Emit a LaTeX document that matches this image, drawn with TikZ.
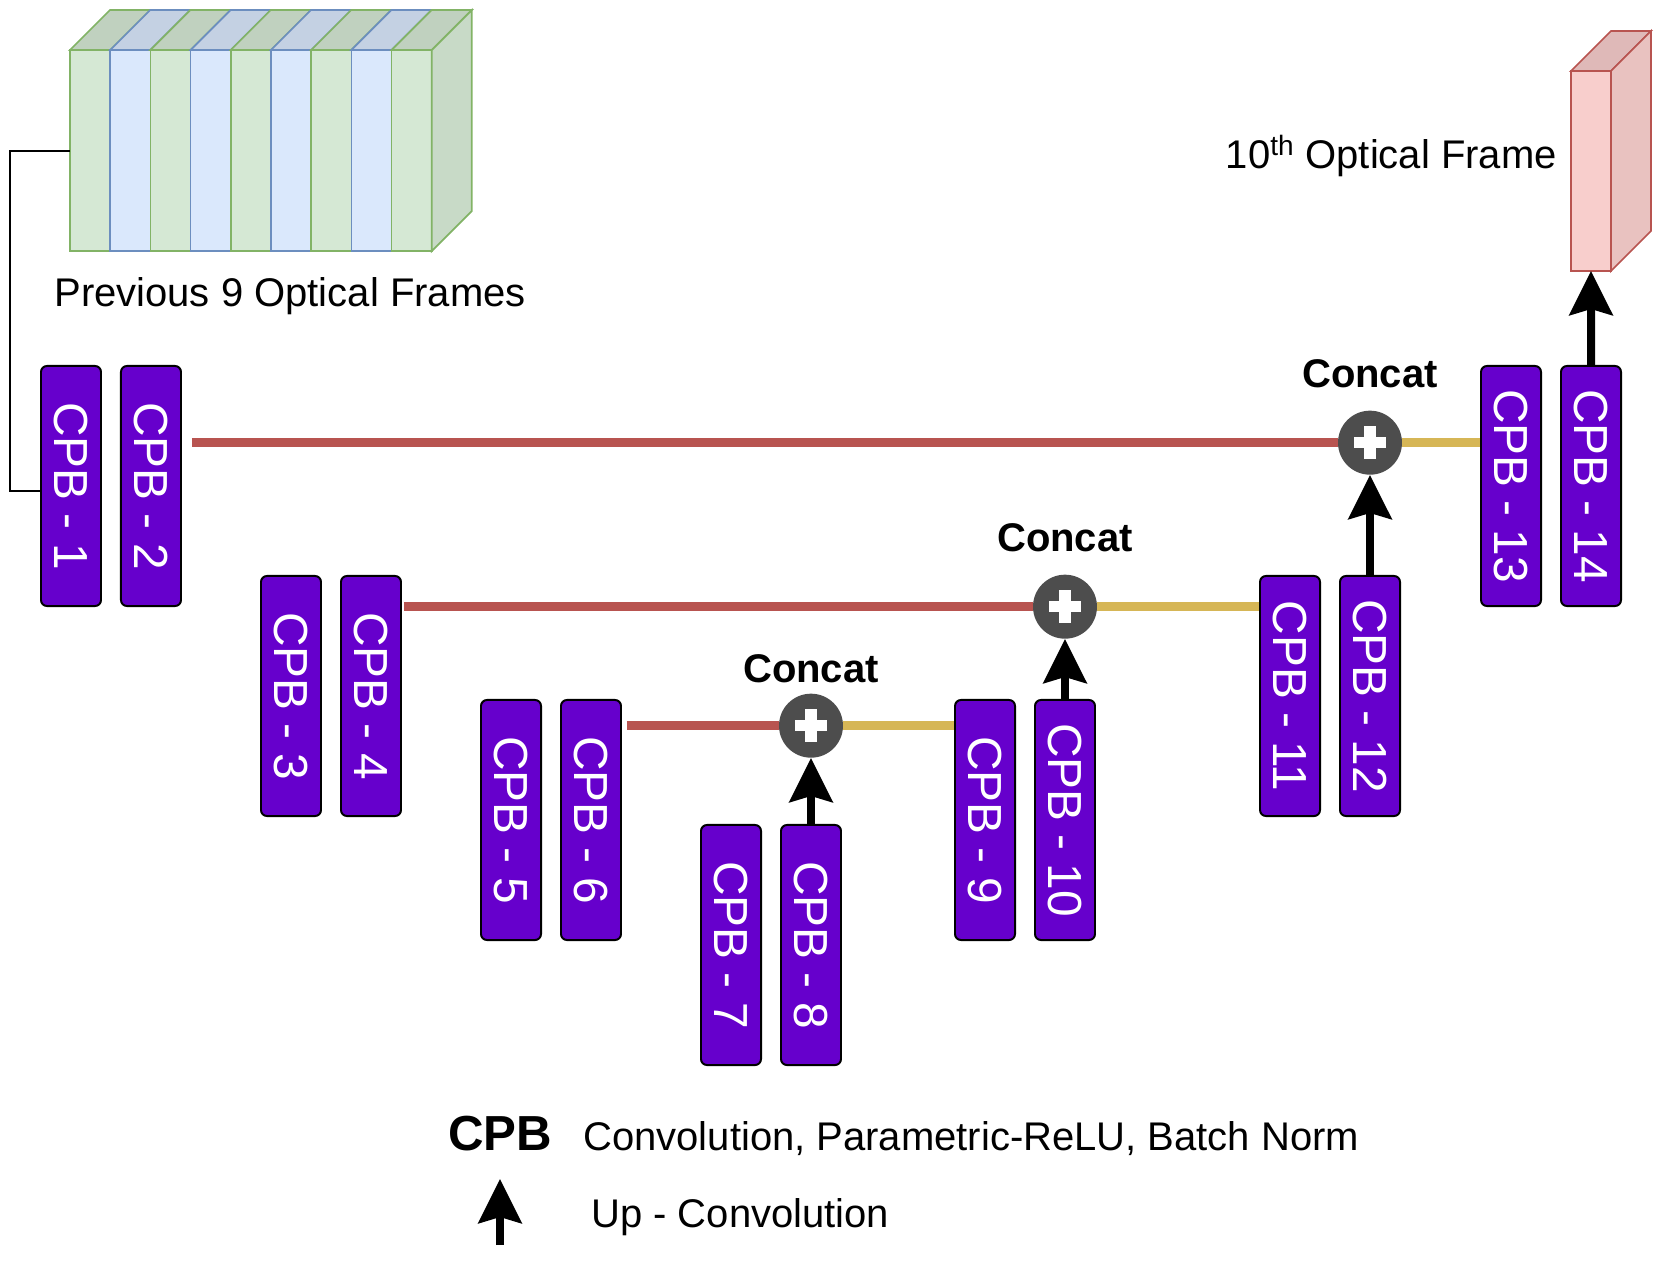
\documentclass[tikz,border=0pt]{standalone}
\usepackage{fontspec}
\setmainfont{Liberation Sans}
\usetikzlibrary{positioning,arrows.meta}

\definecolor{cpbpurple}{HTML}{6600CC}
\definecolor{grnF}{HTML}{D5E8D4}
\definecolor{grnS}{HTML}{82B366}
\definecolor{bluF}{HTML}{DAE8FC}
\definecolor{bluS}{HTML}{6C8EBF}
\definecolor{redF}{HTML}{F8CECC}
\definecolor{redS}{HTML}{B85450}
\definecolor{skipY}{HTML}{D6B656}
\definecolor{plusgray}{HTML}{4D4D4D}

\newcommand{\txtsize}{\fontsize{28.45pt}{34pt}\selectfont}
\newcommand{\boxsize}{\fontsize{34pt}{40pt}\selectfont}
\newcommand{\keysize}{\fontsize{35pt}{42pt}\selectfont}

\tikzset{
  cpb/.style={draw=black, line width=1.4pt, fill=cpbpurple, rounded corners=0.15cm,
    minimum width=1.5cm, minimum height=6cm, inner sep=0pt, text=white, font=\boxsize},
  plusnode/.style={circle, fill=plusgray, minimum size=1.6cm, inner sep=0pt,
    path picture={
      \fill[white] (path picture bounding box.center) ++(-0.41cm,-0.14cm) rectangle ++(0.82cm,0.28cm);
      \fill[white] (path picture bounding box.center) ++(-0.14cm,-0.41cm) rectangle ++(0.28cm,0.82cm);
    }},
  concatlbl/.style={font=\txtsize\bfseries, inner sep=0pt},
  skipline/.style={line width=6.5pt, draw=redS},
  catline/.style={line width=6.5pt, draw=skipY},
  uparrow/.style={line width=5.7pt, -{Stealth[length=1.1cm, width=1.075cm, inset=0.15cm]}},
}

\begin{document}
\begin{tikzpicture}[x=0.025cm, y=-0.025cm]
  \useasboundingbox (0,0) rectangle (1662,1276);

  % input stack of frames
  \foreach \i/\f/\s in {0/grnF/grnS,1/bluF/bluS,2/grnF/grnS,3/bluF/bluS,4/grnF/grnS,5/bluF/bluS,6/grnF/grnS,7/bluF/bluS,8/grnF/grnS}{
    \filldraw[fill=\f, draw=\s, line width=1.2pt] (70+40.2*\i,50) rectangle (110.2+40.2*\i,251);
    \filldraw[fill=\f!90!black, draw=\s, line width=1.2pt] (70+40.2*\i,50) -- (110+40.2*\i,10) -- (150.2+40.2*\i,10) -- (110.2+40.2*\i,50) -- cycle;
  }
  \filldraw[fill=grnF!94!black, draw=grnS, line width=1.2pt] (431.8,50) -- (471.8,10) -- (471.8,211) -- (431.8,251) -- cycle;
  \coordinate (stack) at (70,151);
  \node[font=\txtsize, inner sep=0pt, anchor=base] (prevlbl) at (290,306) {Previous 9 Optical Frames};

  % output frame
  \filldraw[fill=redF, draw=redS, line width=1.2pt] (1571,71) rectangle (1611,271);
  \filldraw[fill=redF!90!black, draw=redS, line width=1.2pt] (1571,71) -- (1611,31) -- (1651,31) -- (1611,71) -- cycle;
  \filldraw[fill=redF!94!black, draw=redS, line width=1.2pt] (1611,71) -- (1651,31) -- (1651,231) -- (1611,271) -- cycle;
  \coordinate (tenth) at (1591,271);
  \node[font=\txtsize, inner sep=0pt, anchor=base east] (tenthlbl) at (1557,168) {10\textsuperscript{th} Optical Frame};

  % encoder / decoder blocks
  \node[cpb] (CPB1) at (71,486) {\rotatebox{-90}{CPB - 1}};
  \node[cpb, right=0.45cm of CPB1] (CPB2) {\rotatebox{-90}{CPB - 2}};
  \node[cpb] (CPB3) at (291,696) {\rotatebox{-90}{CPB - 3}};
  \node[cpb, right=0.45cm of CPB3] (CPB4) {\rotatebox{-90}{CPB - 4}};
  \node[cpb] (CPB5) at (511,820) {\rotatebox{-90}{CPB - 5}};
  \node[cpb, right=0.45cm of CPB5] (CPB6) {\rotatebox{-90}{CPB - 6}};
  \node[cpb] (CPB7) at (731,945) {\rotatebox{-90}{CPB - 7}};
  \node[cpb, right=0.45cm of CPB7] (CPB8) {\rotatebox{-90}{CPB - 8}};
  \node[cpb] (CPB9) at (985,820) {\rotatebox{-90}{CPB - 9}};
  \node[cpb, right=0.45cm of CPB9] (CPB10) {\rotatebox{-90}{CPB - 10}};
  \node[cpb] (CPB11) at (1290,696) {\rotatebox{-90}{CPB - 11}};
  \node[cpb, right=0.45cm of CPB11] (CPB12) {\rotatebox{-90}{CPB - 12}};
  \node[cpb] (CPB13) at (1511,486) {\rotatebox{-90}{CPB - 13}};
  \node[cpb, right=0.45cm of CPB13] (CPB14) {\rotatebox{-90}{CPB - 14}};

  % concatenations
  \node[plusnode, above=1.65cm of CPB8] (C1) {};
  \node[plusnode, above=1.5cm of CPB10] (C2) {};
  \node[plusnode, above=2.5cm of CPB12] (C3) {};
  \node[concatlbl, above=0.25cm of C1] (C1lbl) {Concat};
  \node[concatlbl, above=0.55cm of C2] (C2lbl) {Concat};
  \node[concatlbl, above=0.55cm of C3] (C3lbl) {Concat};

  \draw[line width=1.1pt] (stack) -| ([xshift=-0.75cm, yshift=-0.125cm]CPB1.west) -- ([yshift=-0.125cm]CPB1.west);

  \draw[skipline, shorten <=0.25cm] (CPB2.east |- C3) -- (C3);
  \draw[skipline, shorten <=0.05cm] (CPB4.east |- C2) -- (C2);
  \draw[skipline, shorten <=0.12cm] (CPB6.east |- C1) -- (C1);
  \draw[catline] (C3) -- (C3 -| CPB13.west);
  \draw[catline] (C2) -- (C2 -| CPB11.west);
  \draw[catline] (C1) -- (C1 -| CPB9.west);

  \draw[uparrow] (CPB8) -- (C1);
  \draw[uparrow] (CPB10) -- (C2);
  \draw[uparrow] (CPB12) -- (C3);
  \draw[uparrow] (CPB14) -- (tenth);

  % legend
  \node[font=\keysize\bfseries, inner sep=0pt, anchor=base] (key) at (500,1150) {CPB};
  \node[font=\txtsize, inner sep=0pt, anchor=base west] (keytext) at (583,1150) {Convolution, Parametric-ReLU, Batch Norm};
  \coordinate (uptail) at (500,1245);
  \coordinate (uptip) at (500,1179);
  \draw[uparrow] (uptail) -- (uptip);
  \node[font=\txtsize, inner sep=0pt, anchor=base west] (uptext) at (591,1227) {Up - Convolution};
\end{tikzpicture}
\end{document}
